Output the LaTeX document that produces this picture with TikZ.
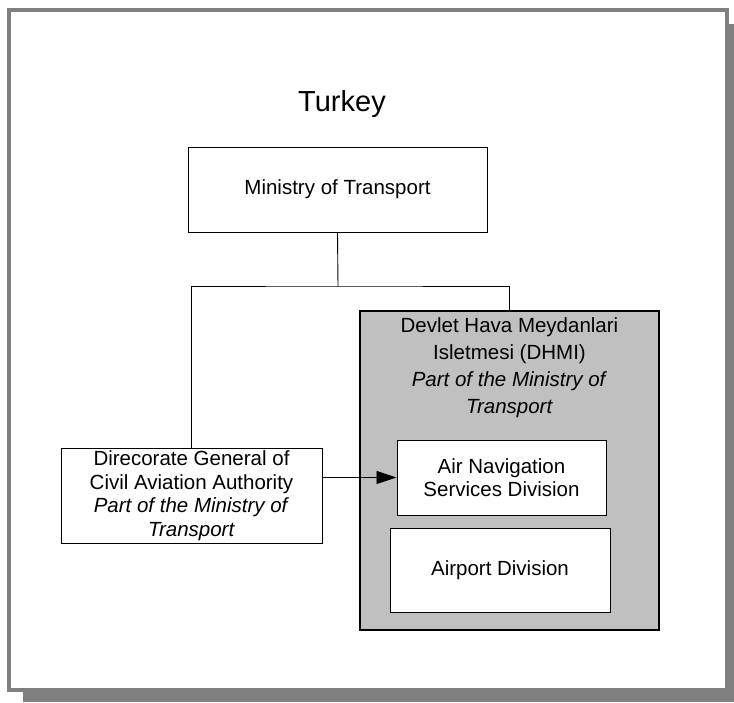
\documentclass[tikz,border=0pt]{standalone}
\usepackage{fontspec}
\setmainfont{Liberation Sans}
\usetikzlibrary{arrows.meta}

\definecolor{framegray}{HTML}{808080}
\definecolor{groupgray}{HTML}{C0C0C0}

\tikzset{
  orgbox/.style={draw=black, line width=1pt, fill=white, align=center,
    font=\fontsize{20.5}{23.5}\selectfont, inner sep=2pt},
  groupbox/.style={draw=black, line width=1.3pt, fill=groupgray},
  link/.style={draw=black, line width=0.9pt}
}

\begin{document}
\begin{tikzpicture}[x=1pt, y=-1pt]

  % --- page frame with shadow ---
  \useasboundingbox (0,0) rectangle (734,702);
  \fill[framegray] (23,24) rectangle (734,702);
  \draw[framegray, line width=4pt, fill=white] (9,10) rectangle (727,690);

  % --- title ---
  \node[font=\fontsize{29}{33}\selectfont] (title) at (342,104) {Turkey};

  % --- ministry ---
  \node[orgbox, minimum width=299, minimum height=85] (mot) at (337.5,189.5) {Ministry of Transport};

  % --- DHMI group with its divisions ---
  \node[groupbox, minimum width=299, minimum height=319] (dhmi) at (509.5,470.5) {};
  \node[align=center, anchor=north, font=\fontsize{20.5}{27}\selectfont] (dhmilabel) at ([yshift=-4]dhmi.north)
    {Devlet Hava Meydanlari\\ Isletmesi (DHMI)\\ \textit{Part of the Ministry of}\\ \textit{Transport}};
  \node[orgbox, minimum width=209, minimum height=75] (ans) at (501.5,477.5) {Air Navigation\\ Services Division};
  \node[orgbox, minimum width=220, minimum height=84] (apt) at (500,570) {Airport Division};

  % --- civil aviation ---
  \node[orgbox, minimum width=261, minimum height=95] (dgca) at (191.5,495.5)
    {Direcorate General of\\ Civil Aviation Authority\\ \textit{Part of the Ministry of}\\ \textit{Transport}};

  % --- connectors ---
  \coordinate (bus) at (338,286);
  \draw[link] (mot.south) -- (bus);
  \draw[link] (dgca.north) |- (bus) -| (dhmi.north);
  \draw[link, -{Triangle[length=20pt, width=13pt]}] (dgca.east |- ans.west) -- (ans.west);

\end{tikzpicture}
\end{document}
